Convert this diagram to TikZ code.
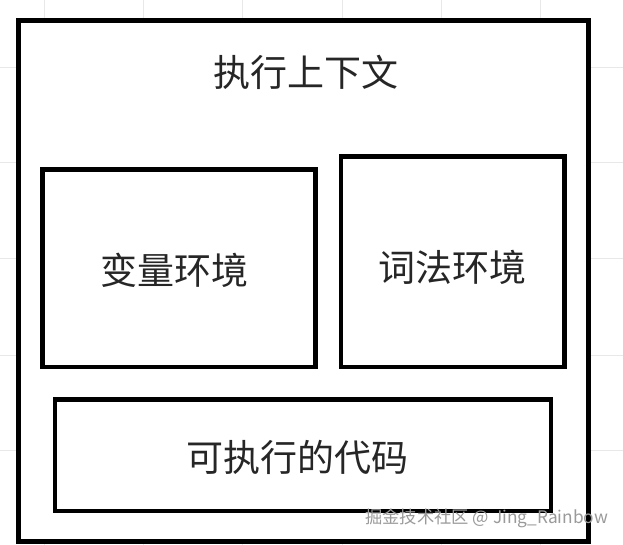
\documentclass[tikz,border=0pt]{standalone}
\usepackage{fontspec}
\newfontfamily\cjk{Noto Sans CJK SC}
\newfontfamily\wmfont{Noto Sans CJK SC}
\definecolor{gridc}{HTML}{E8E8E8}
\definecolor{wmc}{HTML}{9A9A9A}
\tikzset{
  box/.style={draw=black, line width=4.5pt, fill=white},
  outerbox/.style={draw=black, line width=5pt, fill=white},
  lbl/.style={font=\cjk\fontsize{37}{42}\selectfont, text=black!85, inner sep=0pt},
  wm/.style={font=\wmfont\fontsize{17.3}{20}\selectfont, text=wmc, inner sep=0pt, anchor=west}
}
\begin{document}
\begin{tikzpicture}[x=1pt,y=-1pt]
\useasboundingbox (0,0) rectangle (623,545);
\fill[white] (0,0) rectangle (623,545);
% background grid
\foreach \gx in {44,143,242,342,441,540} \draw[gridc, line width=1pt] (\gx,0) -- (\gx,545);
\foreach \gy in {68,163,258,355,450} \draw[gridc, line width=1pt] (0,\gy) -- (623,\gy);
% boxes
\draw[outerbox] (18.5,20.5) rectangle (588.5,541.5);
\draw[box] (42.5,169.5) rectangle (315.5,367);
\draw[box] (341,156.5) rectangle (564.5,367);
\draw[box] (55,399.5) rectangle (551,511);
% labels
\node[lbl] (title) at (305.5,72) {执行上下文};
\node[lbl] (var) at (174,270) {变量环境};
\node[lbl] (lex) at (452,267) {词法环境};
\node[lbl] (code) at (297,457) {可执行的代码};
% watermark
\node[wm] (wmark) at (365,518) {掘金技术社区 @ Jing\_Rainbow};
\end{tikzpicture}
\end{document}
